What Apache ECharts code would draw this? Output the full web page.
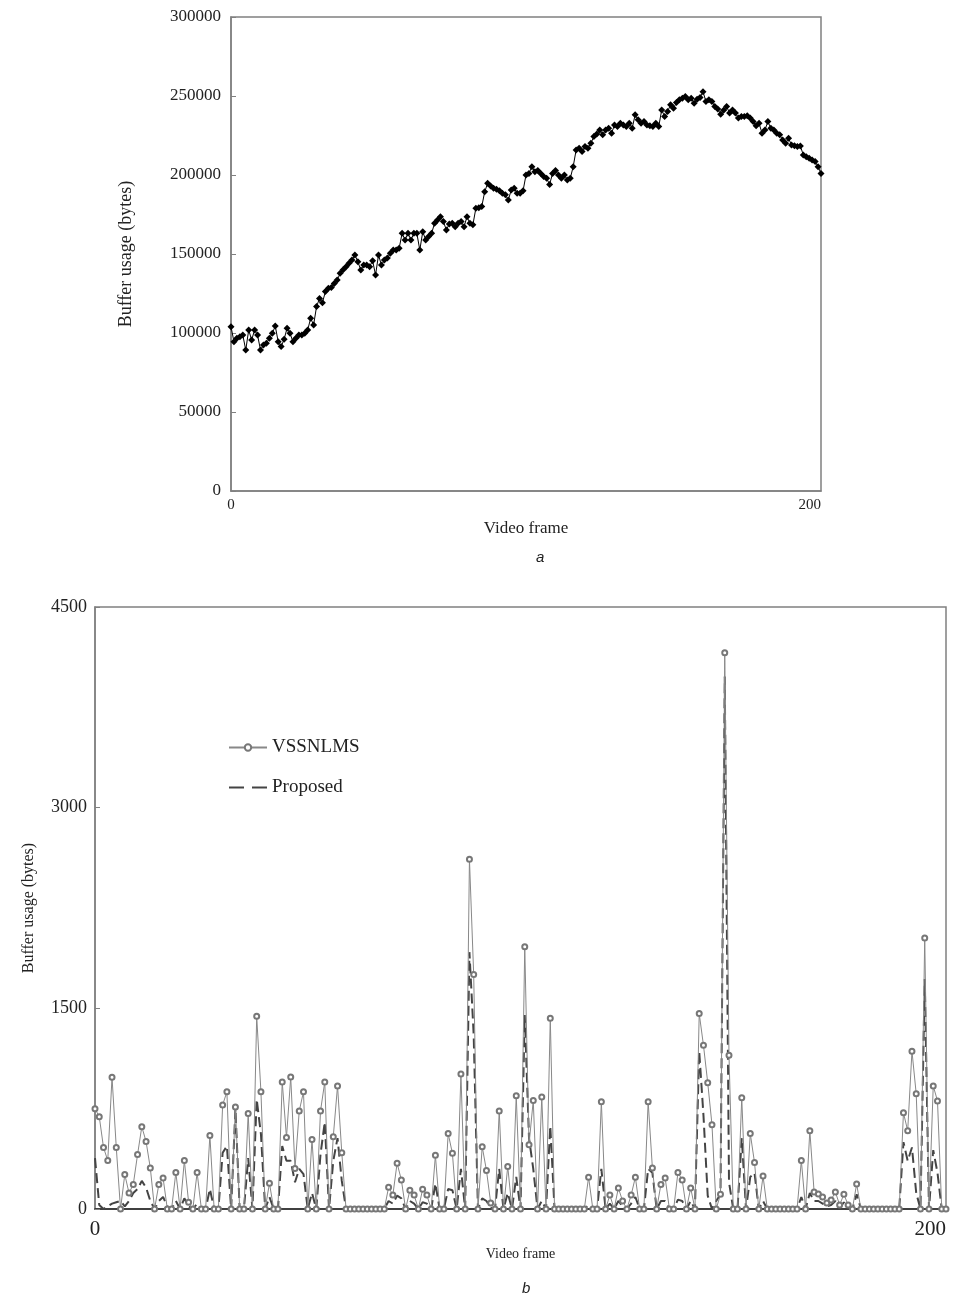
<!DOCTYPE html>
<html>
<head>
    <meta charset="utf-8">
    <title>Buffer usage</title>
    <script src="https://cdn.jsdelivr.net/npm/echarts@6/dist/echarts.min.js"></script>
    <style>
        body { margin: 0; background: #fff; }
    </style>
</head>
<body>
<div id="main" style="width: 956px;height:1294px;"></div>
<script type="text/javascript">
    // (a) buffer usage per frame, frames 0..200
    var bufferA = [
        104000, 94500, 96600, 97700, 98700, 89200, 101900, 95600, 101900, 98700,
        89200, 92400, 93500, 96600, 99800, 104400, 94500, 91400, 96000, 103000,
        99800, 94500, 96600, 98700, 98700, 99800, 101900, 109300, 105100, 116700,
        121900, 119200, 126200, 128300, 128800, 131400, 133500, 137800, 140100, 142000,
        144100, 146200, 149400, 145100, 139900, 143000, 143000, 142000, 145800, 136700,
        149400, 143000, 146200, 147500, 150400, 152500, 152500, 153600, 163100, 158900,
        163100, 158900, 163100, 163100, 152500, 164100, 158900, 161000, 163100, 169400,
        171500, 173600, 170500, 165200, 169000, 169400, 167300, 169400, 170500, 167300,
        173600, 169400, 168500, 178900, 179200, 180000, 189400, 194700, 193000, 191600,
        191000, 190000, 188400, 187500, 184200, 190500, 191600, 188400, 188400, 190000,
        200000, 201000, 205300, 202000, 202900, 201000, 199000, 197900, 194000, 201000,
        202900, 200000, 197900, 200000, 196800, 197900, 205300, 215900, 217000, 214800,
        218000, 217000, 220100, 224300, 226000, 228500, 225400, 228500, 229600, 226400,
        231700, 230700, 232800, 231700, 230700, 232800, 229600, 238100, 234900, 232800,
        233800, 231700, 231200, 230700, 232800, 230700, 241200, 237000, 240200, 244400,
        242300, 245900, 247600, 248600, 249700, 247600, 248600, 245400, 247900, 249000,
        252700, 246500, 247600, 246500, 243400, 241700, 238500, 241000, 243400, 239200,
        241200, 239200, 236000, 237000, 237000, 237500, 236000, 233800, 231100, 232800,
        226400, 228500, 233800, 229600, 228500, 226400, 225400, 222200, 220100, 223200,
        219000, 218500, 218000, 218400, 212700, 211600, 210600, 209500, 208500, 205300,
        201000
    ];

    // (b) VSSNLMS, frames 0..200
    var vssnlms = [
        750, 690, 460, 362, 985, 460, 0, 258, 119, 184,
        407, 615, 505, 306, 0, 184, 232, 0, 0, 273,
        0, 362, 50, 0, 273, 0, 0, 550, 0, 0,
        778, 876, 0, 763, 0, 0, 713, 0, 1440, 876,
        0, 193, 0, 0, 950, 535, 986, 303, 733, 876,
        0, 520, 0, 733, 950, 0, 540, 920, 421, 0,
        0, 0, 0, 0, 0, 0, 0, 0, 0, 163,
        104, 342, 217, 0, 140, 104, 0, 148, 104, 0,
        401, 0, 0, 564, 416, 0, 1010, 0, 2614, 1752,
        0, 466, 288, 45, 0, 733, 0, 318, 0, 846,
        0, 1960, 481, 811, 0, 837, 0, 1425, 0, 0,
        0, 0, 0, 0, 0, 0, 238, 0, 0, 802,
        0, 104, 0, 157, 59, 0, 104, 238, 0, 0,
        802, 306, 0, 184, 232, 0, 0, 273, 217, 0,
        157, 0, 1461, 1224, 944, 630, 0, 110, 4158, 1150,
        0, 0, 832, 0, 564, 347, 0, 246, 0, 0,
        0, 0, 0, 0, 0, 0, 362, 0, 585, 128,
        113, 89, 45, 68, 128, 30, 110, 30, 0, 187,
        0, 0, 0, 0, 0, 0, 0, 0, 0, 0,
        719, 585, 1180, 861, 0, 2026, 0, 920, 808, 0,
        0
    ];

    // (b) Proposed, frames 0..200
    var proposed = [
        380, 30, 0, 20, 40, 50, 60, 20, 60, 120,
        150, 210, 160, 60, 0, 60, 90, 20, 0, 60,
        0, 80, 20, 0, 40, 0, 0, 150, 0, 0,
        420, 470, 0, 750, 0, 0, 380, 0, 820, 560,
        0, 90, 0, 0, 470, 360, 360, 200, 300, 260,
        0, 120, 0, 410, 650, 0, 360, 530, 210, 0,
        0, 0, 0, 0, 0, 0, 0, 0, 0, 60,
        40, 100, 80, 0, 60, 40, 0, 50, 40, 0,
        190, 0, 0, 150, 140, 0, 300, 0, 1920, 1300,
        0, 80, 60, 10, 0, 300, 0, 120, 0, 240,
        0, 1450, 530, 300, 0, 60, 0, 620, 0, 0,
        0, 0, 0, 0, 0, 0, 30, 0, 0, 300,
        0, 40, 0, 60, 20, 0, 40, 90, 0, 0,
        300, 270, 0, 60, 60, 0, 0, 70, 60, 0,
        60, 0, 1180, 700, 100, 0, 60, 110, 3980, 200,
        0, 0, 530, 0, 240, 270, 0, 60, 0, 0,
        0, 0, 0, 0, 0, 0, 90, 0, 120, 60,
        60, 40, 20, 30, 60, 10, 50, 10, 0, 110,
        0, 0, 0, 0, 0, 0, 0, 0, 0, 0,
        500, 360, 460, 120, 0, 1720, 0, 440, 270, 0,
        0
    ];

    var seriesNames = ['VSSNLMS', 'Proposed'];

    function toPairs(arr) {
        return arr.map(function (v, i) { return [i, v]; });
    }

    function plain(v) {
        return String(v);
    }

    var serif = 'Liberation Serif';
    var axisGray = '#808080';

    var myChart = echarts.init(document.getElementById('main'));

    myChart.setOption({
        animation: false,
        backgroundColor: '#fff',
        title: [
            {text: 'a', left: 531, top: 545, textStyle: {fontStyle: 'italic', fontWeight: 'normal', fontSize: 15, fontFamily: 'Liberation Sans', color: '#222'}},
            {text: 'b', left: 517, top: 1276, textStyle: {fontStyle: 'italic', fontWeight: 'normal', fontSize: 15, fontFamily: 'Liberation Sans', color: '#222'}}
        ],
        legend: {
            data: [
                {name: seriesNames[0]},
                // two dashes, like the dashed line in the plot
                {name: seriesNames[1], icon: 'path://M0,0 L15,0 L15,2 L0,2 Z M23,0 L38,0 L38,2 L23,2 Z'}
            ],
            orient: 'vertical',
            left: 223,
            top: 733,
            itemWidth: 38,
            itemHeight: 8,
            itemGap: 21,
            textStyle: {fontSize: 19, fontFamily: serif, color: '#222'}
        },
        grid: [
            {left: 231, top: 17, width: 590, height: 474, show: true, borderColor: axisGray, borderWidth: 1.5},
            {left: 95, top: 607, width: 851, height: 602, show: true, borderColor: axisGray, borderWidth: 1.5}
        ],
        xAxis: [
            {
                gridIndex: 0, type: 'value', min: 0, max: 200, interval: 200,
                axisLine: {lineStyle: {color: axisGray, width: 1.5}},
                axisTick: {show: false},
                splitLine: {show: false},
                axisLabel: {fontSize: 15, fontFamily: serif, color: '#222', margin: 7, alignMaxLabel: 'right', formatter: plain},
                name: 'Video frame', nameLocation: 'middle', nameGap: 29,
                nameTextStyle: {fontSize: 17, fontFamily: serif, color: '#222'}
            },
            {
                gridIndex: 1, type: 'value', min: 0, max: 200, interval: 200,
                axisLine: {lineStyle: {color: '#222', width: 1.5}},
                axisTick: {show: false},
                splitLine: {show: false},
                axisLabel: {fontSize: 21, fontFamily: serif, color: '#222', margin: 10, alignMaxLabel: 'right', formatter: plain},
                name: 'Video frame', nameLocation: 'middle', nameGap: 38,
                nameTextStyle: {fontSize: 14, fontFamily: serif, color: '#222'}
            }
        ],
        yAxis: [
            {
                gridIndex: 0, type: 'value', min: 0, max: 300000, interval: 50000,
                axisLine: {lineStyle: {color: axisGray, width: 1.5}},
                axisTick: {inside: true, length: 5, lineStyle: {color: axisGray}},
                splitLine: {show: false},
                axisLabel: {fontSize: 17, fontFamily: serif, color: '#222', margin: 10, formatter: plain},
                name: 'Buffer usage (bytes)', nameLocation: 'middle', nameGap: 96,
                nameTextStyle: {fontSize: 18, fontFamily: serif, color: '#222'}
            },
            {
                gridIndex: 1, type: 'value', min: 0, max: 4500, interval: 1500,
                axisLine: {lineStyle: {color: axisGray, width: 1.5}},
                axisTick: {inside: true, length: 5, lineStyle: {color: axisGray}},
                splitLine: {show: false},
                axisLabel: {fontSize: 18, fontFamily: serif, color: '#222', margin: 8, formatter: plain},
                name: 'Buffer usage (bytes)', nameLocation: 'middle', nameGap: 58,
                nameTextStyle: {fontSize: 16, fontFamily: serif, color: '#222'}
            }
        ],
        series: [
            {
                name: 'Buffer',
                type: 'line',
                xAxisIndex: 0, yAxisIndex: 0,
                data: toPairs(bufferA),
                symbol: 'diamond',
                symbolSize: 7,
                showAllSymbol: true,
                itemStyle: {color: '#000'},
                lineStyle: {color: '#000', width: 1}
            },
            {
                name: 'Proposed',
                type: 'line',
                xAxisIndex: 1, yAxisIndex: 1,
                data: toPairs(proposed),
                symbol: 'none',
                itemStyle: {color: '#444'},
                lineStyle: {color: '#444', width: 2, type: [10, 5]}
            },
            {
                name: 'VSSNLMS',
                type: 'line',
                xAxisIndex: 1, yAxisIndex: 1,
                data: toPairs(vssnlms),
                symbol: 'emptyCircle',
                symbolSize: 5,
                showAllSymbol: true,
                itemStyle: {color: '#777', borderWidth: 1},
                lineStyle: {color: '#888', width: 1}
            }
        ]
    });
</script>
</body>
</html>
